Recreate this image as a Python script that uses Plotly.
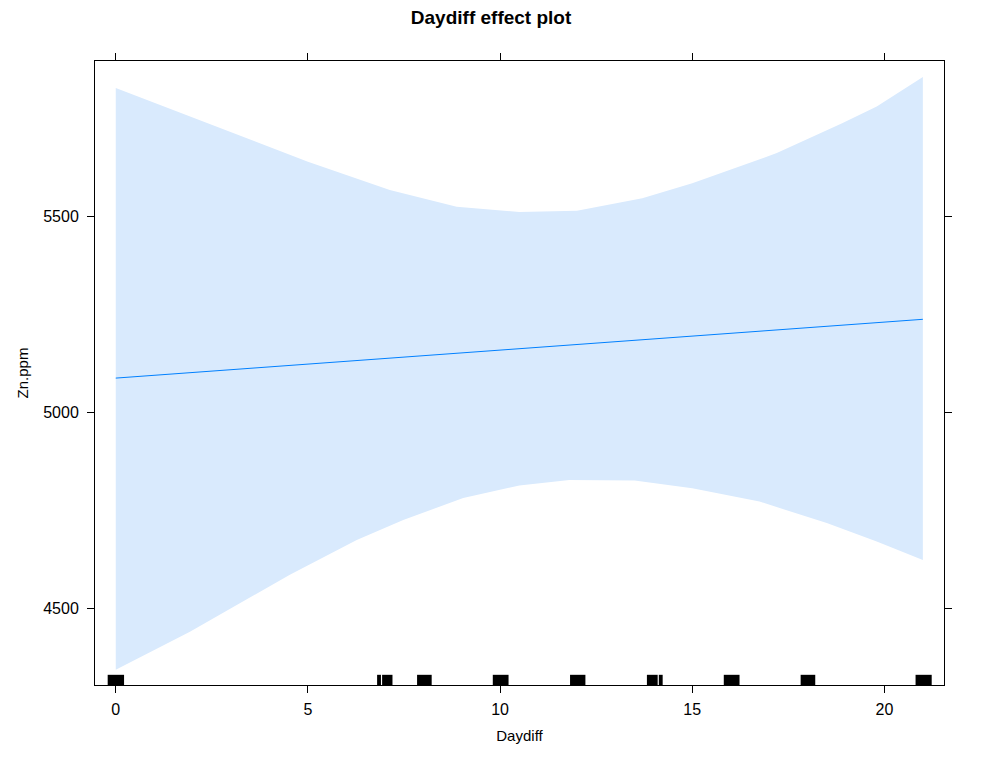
import plotly.graph_objects as go

# Effect line (Daydiff -> fitted Zn.ppm)
line_x = [0, 21]
line_y = [5087, 5237]

# Confidence band, upper and lower limits
upper_x = [0, 2, 3.5, 5, 7.13, 8.87, 10.5, 12, 13.7, 15, 17.2, 18.9, 19.8, 21]
upper_y = [5827, 5751, 5696, 5639, 5567, 5524, 5511, 5514, 5546, 5584, 5661, 5737, 5780, 5855]
lower_x = [0, 1.93, 4.53, 6.27, 7.48, 9.04, 10.5, 11.8, 13.5, 15, 16.75, 18.5, 19.8, 21]
lower_y = [4343, 4440, 4585, 4674, 4725, 4781, 4813, 4827, 4826, 4806, 4772, 4717, 4670, 4623]

# Rug marks (jittered Daydiff values), as left/right edges
rug_lo = [-0.21, 6.80, 6.93, 7.84, 9.81, 11.82, 13.82, 14.13, 15.82, 17.82, 20.81]
rug_hi = [0.216, 6.90, 7.20, 8.22, 10.22, 12.22, 14.10, 14.23, 16.23, 18.20, 21.23]

x_range = [-0.54, 21.55]
y_range = [4304, 5896]
rug_height = 26

font = "Liberation Sans, Arial, sans-serif"

fig = go.Figure()

# band: upper edge forward, lower edge backwards
fig.add_trace(go.Scatter(
    x=upper_x + lower_x[::-1],
    y=upper_y + lower_y[::-1],
    fill="toself",
    fillcolor="rgb(217,234,253)",
    line=dict(width=0),
    mode="lines",
    hoverinfo="skip",
))

fig.add_trace(go.Scatter(
    x=line_x, y=line_y, mode="lines",
    line=dict(color="#0080FF", width=1),
))

fig.add_trace(go.Bar(
    x=[(a + b) / 2 for a, b in zip(rug_lo, rug_hi)],
    y=[rug_height] * len(rug_lo),
    base=y_range[0],
    width=[b - a for a, b in zip(rug_lo, rug_hi)],
    marker=dict(color="black", line=dict(width=0)),
))

# the page body adds an 8px offset, margins are set for that
fig.update_layout(
    width=983, height=766,
    margin=dict(l=87, r=47, t=53, b=89),
    paper_bgcolor="white", plot_bgcolor="white",
    showlegend=False,
    font=dict(family=font, size=16, color="black"),
    title=dict(text="<b>Daydiff effect plot</b>", x=0.4914, xanchor="center",
               y=0.988, yanchor="middle", font=dict(size=19)),
)

fig.update_xaxes(
    range=x_range, tickvals=[0, 5, 10, 15, 20],
    showgrid=False, zeroline=False,
    showline=True, linecolor="black", linewidth=1, mirror="ticks",
    ticks="outside", ticklen=7, tickcolor="black", ticklabelstandoff=3,
    title=dict(text="Daydiff", standoff=13, font=dict(size=15)),
)
fig.update_yaxes(
    range=y_range, tickvals=[4500, 5000, 5500],
    showgrid=False, zeroline=False,
    showline=True, linecolor="black", linewidth=1, mirror="ticks",
    ticks="outside", ticklen=7, tickcolor="black", ticklabelstandoff=5,
    title=dict(text="Zn.ppm", standoff=10, font=dict(size=15)),
)

fig.write_html("out.html")
